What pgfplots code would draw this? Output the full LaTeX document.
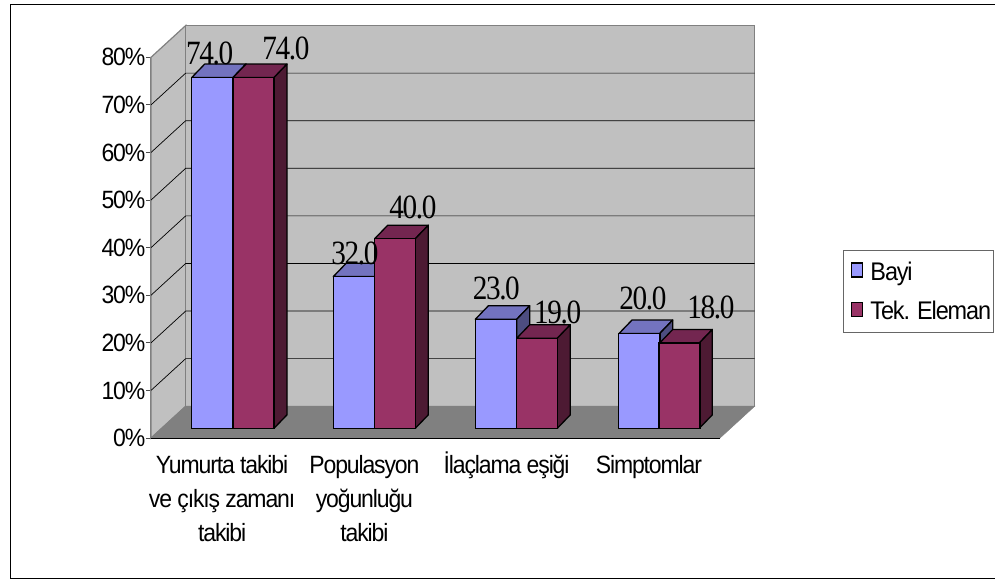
\documentclass[border=0pt]{standalone}
\usepackage{fontspec}
\usepackage{pgfplots}
\pgfplotsset{compat=1.18}
\setmainfont[FakeStretch=0.92,LetterSpace=-4.5]{Liberation Sans}
\newfontfamily\numfont[FakeStretch=0.86,LetterSpace=-4]{Liberation Serif}
\definecolor{bblue}{HTML}{9999FF}
\definecolor{bbluet}{HTML}{7373BF}
\definecolor{bblues}{HTML}{4D4D80}
\definecolor{bred}{HTML}{993366}
\definecolor{bredt}{HTML}{732650}
\definecolor{breds}{HTML}{4D1A33}
\definecolor{wall}{HTML}{C0C0C0}
\definecolor{floorc}{HTML}{808080}
\newcommand{\fsz}{\fontsize{25pt}{34pt}\selectfont}
\newcommand{\barfaces}[5]{%
  \pgfmathsetmacro{\xa}{#1+13}\pgfmathsetmacro{\xb}{#2+13}\pgfmathsetmacro{\vt}{#3+2.84}%
  \addplot[forget plot,fill=#4,draw=black,line width=1.3pt,line join=round] coordinates {(#1,#3)(\xa,\vt)(\xb,\vt)(#2,#3)} --cycle;
  \addplot[forget plot,fill=#5,draw=black,line width=1.3pt,line join=round] coordinates {(#2,0)(\xb,2.84)(\xb,\vt)(#2,#3)} --cycle;
}
\newcommand{\gridl}[2]{%
  \addplot[forget plot,draw=black,line width=0.7pt] coordinates {(151,#1)(185.7,#2)(754.7,#2)};
}
\begin{document}
\begin{tikzpicture}[x=1pt,y=1pt]
\path[use as bounding box] (0,0) rectangle (995,579);
\draw[black,line width=1pt] (995,574.5) -- (10,574.5) -- (10,1) -- (995,1);
\begin{axis}[
  at={(151pt,141pt)},anchor=south west,
  scale only axis,width=569pt,height=380.7pt,
  xmin=151,xmax=720,ymin=0,ymax=80,
  clip=false,
  axis x line=bottom,axis y line=left,
  x axis line style={-,black,line width=1pt},
  y axis line style={-,floorc,line width=1.2pt},
  font=\fsz,
  ytick={0,10,20,30,40,50,60,70,80},
  yticklabels={0\%,10\%,20\%,30\%,40\%,50\%,60\%,70\%,80\%},
  yticklabel style={inner sep=0pt,xshift=-0.5pt},
  y tick style={floorc!60!black,line width=1pt},
  major tick length=5pt,
  xtick={222.1,364.4,506.6,648.9},
  xticklabels={{\rule{0pt}{24pt}Yumurta takibi\\ve çıkış zamanı\\takibi},{\rule{0pt}{24pt}Populasyon\\yoğunluğu\\takibi},{\rule{0pt}{24pt}İlaçlama eşiği},{\rule{0pt}{24pt}Simptomlar}},
  xticklabel style={align=center,anchor=north,inner sep=0pt,yshift=-6.5pt},
  x tick style={draw=none},
  minor xtick={151,293.25,435.5,577.75,720},
  minor x tick style={floorc!60!black,line width=1pt},
  minor tick length=6pt,
  tick align=outside,
]
\addplot[forget plot,fill=wall,draw=floorc,line width=1.2pt] coordinates {(151,0)(185.7,6.68)(185.7,86.68)(151,80)} --cycle;
\addplot[forget plot,fill=wall,draw=floorc,line width=1.2pt] coordinates {(185.7,6.68)(754.7,6.68)(754.7,86.68)(185.7,86.68)} --cycle;
\addplot[forget plot,fill=floorc,draw=floorc,line width=0.5pt] coordinates {(151,0)(720,0)(754.7,6.68)(185.7,6.68)} --cycle;
\gridl{10}{16.68}
\gridl{20}{26.68}
\gridl{30}{36.68}
\gridl{40}{46.68}
\gridl{50}{56.68}
\gridl{60}{66.68}
\gridl{70}{76.68}
\addplot[forget plot,draw=black,line width=1pt] coordinates {(151,0)(720,0)};
\end{axis}
\begin{axis}[
  at={(151pt,150.7pt)},anchor=south west,
  scale only axis,width=569pt,height=379.2pt,
  xmin=151,xmax=720,ymin=0,ymax=80,
  clip=false,hide axis,
  font=\fsz,
  legend style={at={(1.217,0.471)},anchor=north west,draw=floorc!80!black,line width=1pt,
    inner xsep=0pt,inner ysep=6.5pt,row sep=9pt,font=\fontsize{25.5pt}{34pt}\selectfont,
    nodes={inner xsep=2pt,inner ysep=5.2pt,yshift=-2pt},
    /tikz/every even column/.append style={column sep=0pt}},
  legend cell align=left,
  legend image code/.code={\draw[#1,line width=1.3pt] (7.5pt,-7pt) rectangle (18.5pt,7pt);\path[draw=none,fill=none] (0pt,0pt) -- (24.5pt,0pt);},
]
\barfaces{191.7}{233}{74}{bbluet}{bblues}
\barfaces{333.3}{374.7}{32}{bbluet}{bblues}
\barfaces{475.3}{516.7}{23}{bbluet}{bblues}
\barfaces{619}{659.7}{20}{bbluet}{bblues}
\addplot[ybar,bar width=41.3pt,bar shift=0pt,fill=bblue,draw=black,line width=1.3pt] coordinates {(212.35,74)(354,32)(496,23)(639.35,20)};
\addlegendentry{Bayi}
\barfaces{233}{274}{74}{bredt}{breds}
\barfaces{374.7}{415.3}{40}{bredt}{breds}
\barfaces{516.7}{557.3}{19}{bredt}{breds}
\barfaces{659.7}{699.3}{18}{bredt}{breds}
\addplot[ybar,bar width=40.8pt,bar shift=0pt,fill=bred,draw=black,line width=1.3pt] coordinates {(253.5,74)(395,40)(537,19)(679.5,18)};
\addlegendentry{Tek. Eleman}
\begin{scope}[every node/.style={font=\numfont\fontsize{34pt}{34pt}\selectfont,inner sep=0pt}]
\node at (axis cs:209.7,79.0) {74.0};
\node at (axis cs:286,80.1) {74.0};
\node at (axis cs:355,36.9) {32.0};
\node at (axis cs:413,46.7) {40.0};
\node at (axis cs:496.3,29.6) {23.0};
\node at (axis cs:557.7,24.4) {19.0};
\node at (axis cs:643,27.5) {20.0};
\node at (axis cs:711,25.4) {18.0};
\end{scope}
\end{axis}
\end{tikzpicture}
\end{document}
